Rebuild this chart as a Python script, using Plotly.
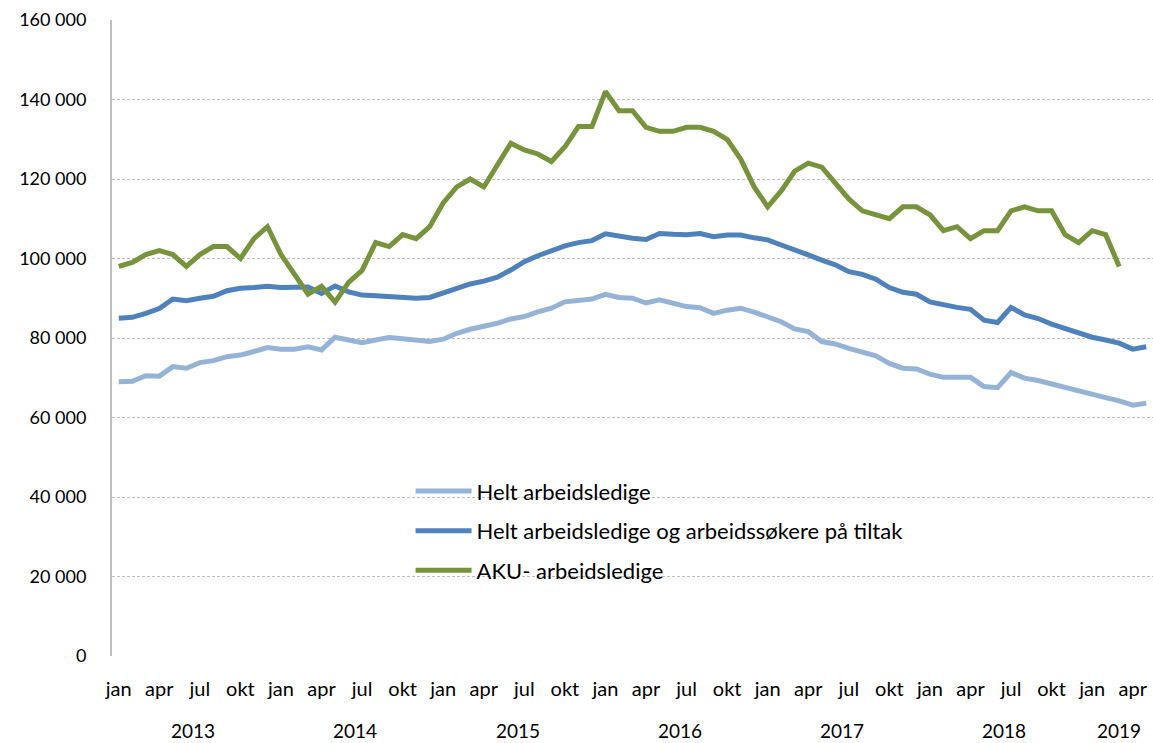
import plotly.graph_objects as go

MONTH_NAMES = ["jan", "feb", "mar", "apr", "mai", "jun", "jul", "aug", "sep", "okt", "nov", "des"]
START_YEAR = 2013
N_MONTHS = 77  # jan 2013 - mai 2019

helt = [69000, 69100, 70500, 70400, 72800, 72400, 73800, 74300, 75300, 75700, 76600, 77600,
        77200, 77200, 77800, 77000, 80200, 79500, 78800, 79500, 80100, 79800, 79500, 79100,
        79700, 81200, 82200, 82900, 83700, 84800, 85400, 86600, 87500, 89100, 89400, 89800,
        91000, 90200, 90000, 88800, 89600, 88700, 87900, 87600, 86200, 87000, 87500, 86500,
        85400, 84100, 82300, 81600, 79100, 78500, 77400, 76600, 75500, 73600, 72400, 72200,
        70900, 70100, 70100, 70100, 67800, 67500, 71300, 69900, 69300, 68400, 67500, 66500,
        65700, 65000, 64200, 63100, 63600]

helt_tiltak = [85000, 85200, 86200, 87400, 89800, 89400, 90000, 90500, 91900, 92500, 92700, 93000,
               92700, 92800, 92800, 91200, 93100, 91600, 90800, 90600, 90400, 90000, 90000, 90200,
               91400, 92500, 93600, 94300, 95300, 97100, 99200, 100700, 102000, 103200, 104000, 104500,
               106200, 105500, 105100, 104800, 106300, 106100, 106000, 106300, 105500, 105900, 105900, 105200,
               104700, 103400, 102000, 100900, 99600, 98400, 96700, 96000, 94800, 92700, 91500, 91000,
               89100, 88300, 87700, 87200, 84500, 83900, 87700, 85800, 84900, 83500, 82400, 81400,
               80200, 79500, 78700, 77200, 77800]

aku = [98000, 99000, 101000, 102000, 101000, 98000, 101000, 103000, 103000, 100000, 105000, 108000,
       101000, 96000, 91000, 93000, 89000, 94000, 97000, 104000, 103000, 106000, 105000, 108000,
       114000, 118000, 120000, 118000, 123500, 129000, 127300, 126300, 124400, 128100, 133200, 133200,
       142000, 137200, 137200, 133000, 132000, 132000, 133000, 133000, 132000, 130000, 125000, 118000,
       113000, 117000, 122000, 124000, 123000, 119000, 115000, 112000, 111000, 110000, 113000, 113000,
       111000, 107000, 108000, 105000, 107000, 107000, 112000, 113000, 112000, 112000, 106000, 104000,
       107000, 106000, 98000]

series_names = ["Helt arbeidsledige",
                "Helt arbeidsledige og arbeidssøkere på tiltak",
                "AKU- arbeidsledige"]
series_colors = ["#95B3D7", "#4F81BD", "#77933C"]

x = list(range(N_MONTHS))
month_labels = [MONTH_NAMES[i % 12] for i in x]
year_of = [START_YEAR + i // 12 for i in x]

fig = go.Figure()
for name, vals, col in zip(series_names, [helt, helt_tiltak, aku], series_colors):
    fig.add_trace(go.Scatter(x=x[:len(vals)], y=vals, mode="lines", name=name,
                             legendgroup=name,
                             line=dict(color=col, width=5)))

tick_idx = [i for i in x if i % 3 == 0]
font_family = "Lato, Carlito, Calibri, sans-serif"

# year labels centered under months of each year
annotations = []
for yr in sorted(set(year_of)):
    idxs = [i for i in x if year_of[i] == yr]
    center = sum(idxs) / len(idxs)
    annotations.append(dict(x=center, y=0, xref="x", yref="paper", yanchor="middle",
                            yshift=-74, text=str(yr), showarrow=False,
                            font=dict(size=19, color="black", family=font_family)))

fig.update_layout(
    width=1153, height=743,
    margin=dict(l=112, r=0, t=20, b=87, autoexpand=False),
    plot_bgcolor="white", paper_bgcolor="white",
    separators=", ",
    font=dict(family=font_family, size=18, color="black"),
    showlegend=True,
    legend=dict(x=0.2868, y=0.292, xanchor="left", yanchor="top",
                bgcolor="rgba(0,0,0,0)", traceorder="grouped", tracegroupgap=8,
                itemwidth=56, font=dict(size=22)),
    annotations=annotations,
    shapes=[dict(type="rect", xref="paper", yref="paper", x0=0.241, x1=0.812,
                 y0=0.105, y1=0.29, fillcolor="white", line=dict(width=0), layer="below")],
)
fig.update_xaxes(range=[-0.5, N_MONTHS - 0.5], tickmode="array", tickvals=tick_idx,
                 ticktext=[month_labels[i] for i in tick_idx], showgrid=False, zeroline=False,
                 showline=False, ticks="", ticklabelstandoff=19, automargin=False,
                 tickfont=dict(size=20))
fig.update_yaxes(range=[0, 160000], tickmode="linear", tick0=0, dtick=20000, tickformat=",d",
                 showgrid=True, gridcolor="#BEBEBE", griddash="3px,2px", gridwidth=1,
                 zeroline=False, showline=True, linecolor="#BFBFBF", linewidth=2,
                 ticks="", ticklabelstandoff=20, automargin=False, tickfont=dict(size=18))

fig.write_html("out.html", config={"displayModeBar": False},
               post_script="document.body.style.margin='0';document.body.style.overflow='hidden';")
